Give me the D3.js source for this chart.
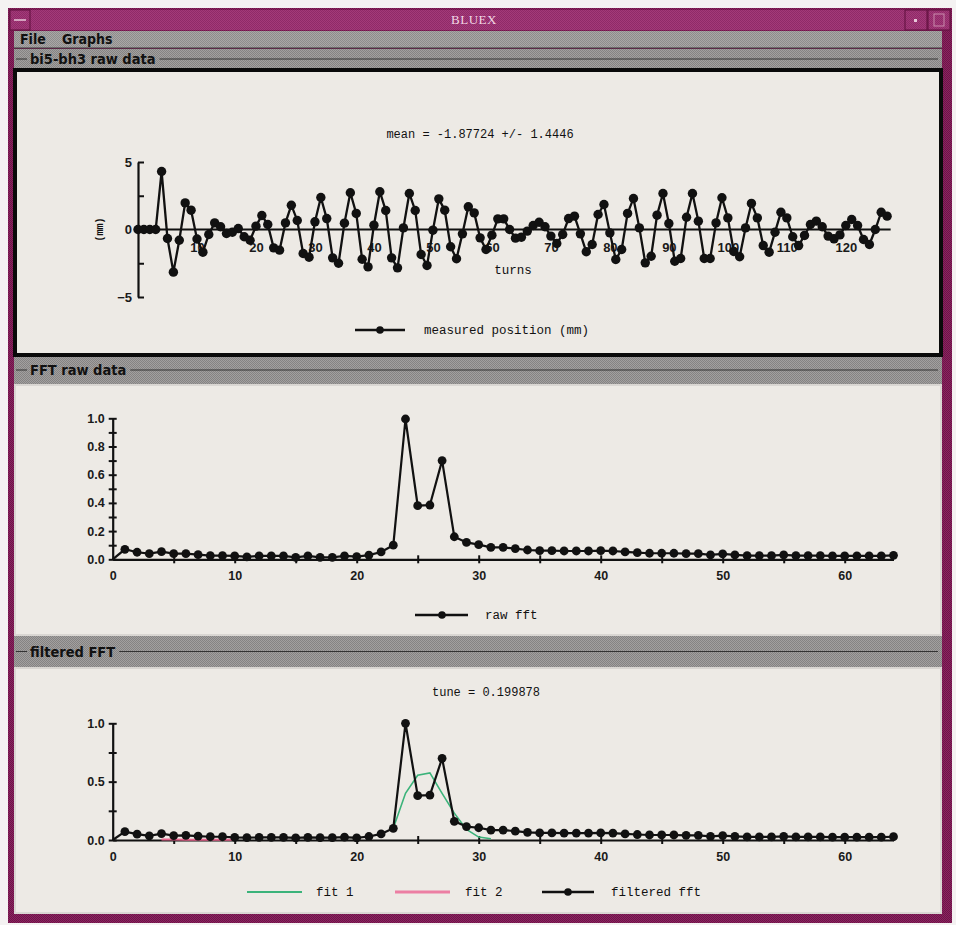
<!DOCTYPE html>
<html><head><meta charset="utf-8">
<script src="https://cdn.jsdelivr.net/npm/d3@7"></script>
<style>body{margin:0;background:#f4f2f2}svg{display:block}</style>
</head><body>
<svg id="c" width="956" height="925"></svg>
<script>
// ---------- data ----------
const rawPosition = [0,0,0,0,4.3,-0.67,-3.16,-0.8,1.97,1.43,-0.7,-1.68,-0.37,0.49,0.2,-0.3,-0.2,0.07,-0.54,-0.8,
 0.25,1.04,0.37,-1.36,-1.53,0.49,1.8,0.67,-1.78,-2.05,0.57,2.37,0.81,-2.1,-2.5,0.47,2.72,1.19,-2.2,-2.77,
 0.32,2.8,1.41,-2.1,-2.84,0.12,2.67,1.41,-1.85,-2.67,-0.05,2.27,1.43,-1.28,-2.17,-0.32,1.68,1.23,-0.62,-1.48,
 -0.42,0.79,0.79,0,-0.64,-0.57,-0.12,0.3,0.54,0.2,-0.49,-1.04,-0.37,0.81,0.99,-0.32,-1.65,-1.11,1.11,1.85,
 -0.25,-2.22,-1.48,1.19,2.3,0.12,-2.47,-1.98,1.06,2.67,0.44,-2.35,-2.15,0.91,2.67,0.62,-2.15,-2.15,0.49,2.35,
 0.86,-1.63,-2.02,0.12,1.93,0.86,-1.19,-1.68,-0.2,1.28,0.86,-0.54,-1.19,-0.44,0.37,0.62,0.2,-0.49,-0.69,-0.4,
 0.3,0.74,0.3,-0.74,-1.11,0,1.28,0.99];
const rawFft = [0,0.071,0.05,0.04,0.054,0.04,0.04,0.033,0.026,0.026,0.024,0.017,0.024,0.024,0.024,0.014,0.024,0.014,0.014,0.024,
 0.019,0.03,0.052,0.10,0.995,0.38,0.385,0.70,0.16,0.12,0.104,0.085,0.085,0.076,0.066,0.061,0.061,0.059,0.059,0.059,
 0.061,0.059,0.052,0.047,0.043,0.043,0.043,0.04,0.04,0.031,0.038,0.031,0.026,0.026,0.026,0.031,0.026,0.026,0.026,0.024,
 0.024,0.024,0.024,0.024,0.028];
const filteredFft = [0,0.071,0.05,0.036,0.055,0.038,0.04,0.033,0.028,0.028,0.022,0.02,0.022,0.022,0.022,0.018,0.022,0.02,0.02,0.024,
 0.019,0.03,0.052,0.10,1.0,0.38,0.385,0.70,0.16,0.115,0.105,0.085,0.085,0.076,0.066,0.061,0.061,0.059,0.059,0.059,
 0.061,0.059,0.052,0.047,0.043,0.043,0.043,0.04,0.04,0.031,0.038,0.031,0.026,0.026,0.026,0.031,0.026,0.026,0.026,0.024,
 0.024,0.024,0.024,0.024,0.028];
const fit1Turns = [23,24,25,26,27,28,29,30,31];
const fit1Values = [0.10,0.40,0.555,0.575,0.40,0.23,0.09,0.025,0.01];
const fit2Turns = [4,5,6,7,8,9,10];
const fit2Values = [0.004,0.004,0.003,0.003,0.003,0.003,0.003];

const rawXTicks = [10,20,30,40,50,60,70,80,90,100,110,120];
const rawYTicks = [-5,0,5];
const rawYMinor = [-5,-2.5,0,2.5,5];
const fftXTicks = [0,10,20,30,40,50,60];
const fftXMarks = [5,10,15,20,25,30,35,40,45,50,55,60];
const fftYTicks = [0,0.2,0.4,0.6,0.8,1.0];
const fftYMarks = [0,0.1,0.2,0.3,0.4,0.5,0.6,0.7,0.8,0.9,1.0];
const filtYTicks = [0,0.5,1.0];
const filtYMarks = [0,0.25,0.5,0.75,1.0];

const meanText = "mean = -1.87724 +/- 1.4446";
const tuneText = "tune = 0.199878";

// ---------- chrome ----------
const svg = d3.select("#c");
const defs = svg.append("defs");
function dither(id, a, b){
  const p = defs.append("pattern").attr("id",id).attr("width",2).attr("height",2).attr("patternUnits","userSpaceOnUse");
  p.append("rect").attr("width",2).attr("height",2).attr("fill",a);
  p.append("rect").attr("width",1).attr("height",1).attr("fill",b);
  p.append("rect").attr("x",1).attr("y",1).attr("width",1).attr("height",1).attr("fill",b);
}
dither("mag","#8a2460","#6e1448");
dither("magT","#a33a79","#8f2a68");
dither("gray","#a9a7a6","#8e8c8c");
dither("grayH","#a2a09f","#858383");

svg.append("rect").attr("width",956).attr("height",925).attr("fill","#f4f2f2");
svg.append("rect").attr("x",8).attr("y",8).attr("width",944).attr("height",915).attr("fill","url(#mag)");
svg.append("rect").attr("x",10).attr("y",10).attr("width",940).attr("height",20).attr("fill","url(#magT)");
[[10,30],[905,927],[928,950]].forEach(([a,b])=>{
  svg.append("rect").attr("x",a).attr("y",10).attr("width",b-a).attr("height",20)
    .attr("fill","none").attr("stroke","#5e0f3c").attr("stroke-width",1);
});
svg.append("line").attr("x1",14).attr("x2",26).attr("y1",20).attr("y2",20).attr("stroke","#e8c9da").attr("stroke-width",1.5);
svg.append("rect").attr("x",914).attr("y",19).attr("width",3).attr("height",3).attr("fill","#e8c9da");
svg.append("rect").attr("x",934).attr("y",14).attr("width",10).attr("height",12).attr("fill","none").attr("stroke","#c98aac");
svg.append("text").attr("x",474).attr("y",24).attr("text-anchor","middle")
  .attr("font-family","Liberation Serif, serif").attr("font-size",13).attr("fill","#f2d8e6")
  .attr("letter-spacing",0.5).text("BLUEX");

svg.append("rect").attr("x",14).attr("y",31).attr("width",928).attr("height",17).attr("fill","url(#gray)");
svg.append("line").attr("x1",14).attr("x2",942).attr("y1",48).attr("y2",48).attr("stroke","#3a3a3a").attr("stroke-width",1);
const hdrFont = "DejaVu Sans Condensed, DejaVu Sans, sans-serif";
svg.append("text").attr("x",20).attr("y",44).attr("font-family",hdrFont).attr("font-stretch","condensed")
  .attr("font-weight","bold").attr("font-size",14).attr("fill","#111").text("File");
svg.append("text").attr("x",62).attr("y",44).attr("font-family",hdrFont).attr("font-stretch","condensed")
  .attr("font-weight","bold").attr("font-size",14).attr("fill","#111").text("Graphs");

function header(y0, h, label){
  svg.append("rect").attr("x",14).attr("y",y0).attr("width",928).attr("height",h).attr("fill","url(#grayH)");
  const cy = y0 + h/2;
  const t = svg.append("text").attr("x",30).attr("y",cy+5).attr("font-family",hdrFont).attr("font-stretch","condensed")
    .attr("font-weight","bold").attr("font-size",14.5).attr("fill","#111").text(label);
  const w = t.node().getComputedTextLength();
  svg.append("line").attr("x1",16).attr("x2",27).attr("y1",cy).attr("y2",cy).attr("stroke","#333").attr("stroke-width",1);
  svg.append("line").attr("x1",34+w).attr("x2",938).attr("y1",cy).attr("y2",cy).attr("stroke","#333").attr("stroke-width",1);
}
header(49, 20, "bi5-bh3 raw data");
header(356, 28, "FFT raw data");
header(636, 31, "filtered FFT");

function panel(y0, y1, selected){
  svg.append("rect").attr("x",15).attr("y",y0).attr("width",926).attr("height",y1-y0)
    .attr("fill","#edeae5")
    .attr("stroke", selected ? "#0a0a0a" : "#d9d6d2")
    .attr("stroke-width", selected ? 4 : 2);
}
panel(70, 355, true);
panel(385, 635, false);
panel(668, 913, false);

const numFont = "Liberation Sans, Arial, sans-serif";
const monoFont = "Liberation Mono, DejaVu Sans Mono, monospace";

function styleAxis(g, fs){
  g.selectAll("path.domain").attr("stroke","#111").attr("stroke-width",2.2);
  g.selectAll(".tick line").attr("stroke","#111").attr("stroke-width",2);
  g.selectAll("text").attr("font-family",numFont).attr("font-size",fs||12.5).attr("font-weight","bold").attr("fill","#1a1a1a");
}

// ---------- panel 1: raw data ----------
{
  const x = d3.scaleLinear().domain([0,128]).range([138, 893]);
  const y = d3.scaleLinear().domain([-5,5]).range([297, 162]);
  const g = svg.append("g");
  const ya = g.append("g").attr("transform",`translate(${x(0)},0)`)
    .call(d3.axisRight(y).tickValues(rawYMinor).tickSizeInner(6).tickSizeOuter(0).tickFormat(""));
  styleAxis(ya);
  const yl = g.append("g").attr("transform",`translate(${x(0)-6},0)`)
    .call(d3.axisLeft(y).tickValues(rawYTicks).tickSize(0).tickPadding(0).tickFormat(d3.format("d")));
  yl.select("path.domain").remove();
  styleAxis(yl, 13);
  const xa = g.append("g").attr("transform",`translate(0,${y(0)})`)
    .call(d3.axisBottom(x).tickValues(rawXTicks).tickSize(0).tickPadding(13));
  xa.select("path.domain").attr("d",`M${x(0)},0H${x(127.6)}`);
  styleAxis(xa, 13);
  g.append("text").attr("transform",`translate(103,${y(0)}) rotate(-90)`).attr("text-anchor","middle")
    .attr("font-family",monoFont).attr("font-size",10).attr("font-weight","bold").attr("fill","#111").text("(mm)");
  g.append("text").attr("x",513).attr("y",y(0)+44).attr("text-anchor","middle")
    .attr("font-family",monoFont).attr("font-size",12.5).attr("fill","#111").text("turns");
  g.append("text").attr("x",480).attr("y",138).attr("text-anchor","middle")
    .attr("font-family",monoFont).attr("font-size",12).attr("fill","#111").text(meanText);
  const line = d3.line().x((d,i)=>x(i)).y(d=>y(d));
  g.append("path").datum(rawPosition).attr("d",line).attr("fill","none").attr("stroke","#111").attr("stroke-width",2.3);
  g.selectAll("circle.p").data(rawPosition).join("circle").attr("class","p")
    .attr("cx",(d,i)=>x(i)).attr("cy",d=>y(d)).attr("r",4.7).attr("fill","#111");
  g.append("line").attr("x1",355).attr("x2",405).attr("y1",330).attr("y2",330).attr("stroke","#111").attr("stroke-width",2.3);
  g.append("circle").attr("cx",380).attr("cy",330).attr("r",3.8).attr("fill","#111");
  g.append("text").attr("x",424).attr("y",334).attr("font-family",monoFont).attr("font-size",12.5).attr("fill","#111")
    .text("measured position (mm)");
}

// ---------- panels 2 & 3 ----------
function fftPanel(opts){
  const x = d3.scaleLinear().domain([0,64]).range([112.7, 893.5]);
  const y = d3.scaleLinear().domain([0,1]).range([opts.y0, opts.y1]);
  const g = svg.append("g");
  const ym = g.append("g").attr("transform",`translate(${x(0)-4},0)`)
    .call(d3.axisRight(y).tickValues(opts.yMarks).tickSizeInner(8).tickSizeOuter(0).tickFormat(""));
  ym.select("path.domain").remove();
  styleAxis(ym);
  const yl = g.append("g").attr("transform",`translate(${x(0)},0)`)
    .call(d3.axisLeft(y).tickValues(opts.yTicks).tickSize(0).tickPadding(8).tickFormat(d3.format(".1f")));
  styleAxis(yl);
  const xm = g.append("g").attr("transform",`translate(0,${y(0)-4})`)
    .call(d3.axisBottom(x).tickValues(fftXMarks).tickSizeInner(8).tickSizeOuter(0).tickFormat(""));
  xm.select("path.domain").remove();
  styleAxis(xm);
  const xl = g.append("g").attr("transform",`translate(0,${y(0)})`)
    .call(d3.axisBottom(x).tickValues(fftXTicks).tickSize(0).tickPadding(12).tickFormat(d3.format("d")));
  styleAxis(xl);
  if (opts.fits){
    g.append("path").datum(fit2Values)
      .attr("d", d3.line().x((d,i)=>x(fit2Turns[i])).y(d=>y(d)))
      .attr("fill","none").attr("stroke","#e9668f").attr("stroke-width",2);
    g.append("path").datum(fit1Values)
      .attr("d", d3.line().x((d,i)=>x(fit1Turns[i])).y(d=>y(d)))
      .attr("fill","none").attr("stroke","#3bb37a").attr("stroke-width",1.6);
  }
  const line = d3.line().x((d,i)=>x(i)).y(d=>y(d));
  g.append("path").datum(opts.data).attr("d",line).attr("fill","none").attr("stroke","#111").attr("stroke-width",2.2);
  g.selectAll("circle.p").data(opts.data.slice(1)).join("circle").attr("class","p")
    .attr("cx",(d,i)=>x(i+1)).attr("cy",d=>y(d)).attr("r",4.4).attr("fill","#111");
  if (opts.title){
    g.append("text").attr("x",486).attr("y",opts.titleY).attr("text-anchor","middle")
      .attr("font-family",monoFont).attr("font-size",12).attr("fill","#111").text(opts.title);
  }
  return g;
}
const g2 = fftPanel({y0:559.3, y1:418.3, yMarks:fftYMarks, yTicks:fftYTicks, data:rawFft});
g2.append("line").attr("x1",415).attr("x2",468).attr("y1",615).attr("y2",615).attr("stroke","#111").attr("stroke-width",2.3);
g2.append("circle").attr("cx",442).attr("cy",615).attr("r",3.8).attr("fill","#111");
g2.append("text").attr("x",485).attr("y",619).attr("font-family",monoFont).attr("font-size",12.5).attr("fill","#111").text("raw fft");

const g3 = fftPanel({y0:840, y1:723.3, yMarks:filtYMarks, yTicks:filtYTicks, data:filteredFft, fits:true,
  title:tuneText, titleY:696});
g3.append("line").attr("x1",247).attr("x2",302).attr("y1",892).attr("y2",892).attr("stroke","#3bb37a").attr("stroke-width",2);
g3.append("text").attr("x",316).attr("y",896).attr("font-family",monoFont).attr("font-size",12.5).attr("fill","#111").text("fit 1");
g3.append("line").attr("x1",395).attr("x2",450).attr("y1",892).attr("y2",892).attr("stroke","#ec7fa3").attr("stroke-width",3);
g3.append("text").attr("x",465).attr("y",896).attr("font-family",monoFont).attr("font-size",12.5).attr("fill","#111").text("fit 2");
g3.append("line").attr("x1",542).attr("x2",594).attr("y1",892).attr("y2",892).attr("stroke","#111").attr("stroke-width",2.3);
g3.append("circle").attr("cx",568).attr("cy",892).attr("r",3.8).attr("fill","#111");
g3.append("text").attr("x",611).attr("y",896).attr("font-family",monoFont).attr("font-size",12.5).attr("fill","#111").text("filtered fft");
</script>
</body></html>
